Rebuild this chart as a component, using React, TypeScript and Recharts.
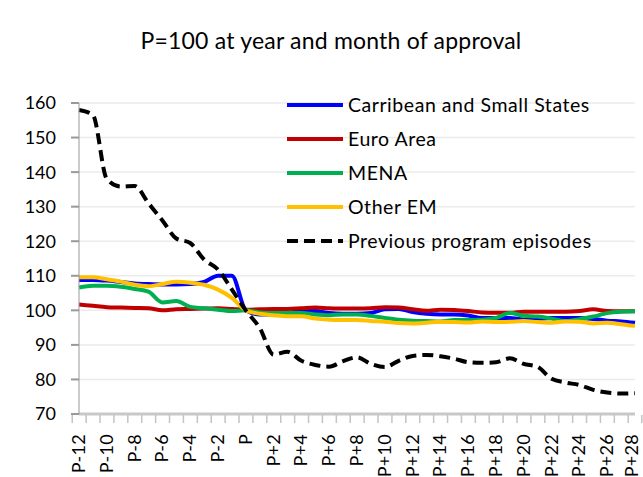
import React from 'react';
import { LineChart, Line, XAxis, YAxis, CartesianGrid, Legend } from 'recharts';

const categories = [
  'P-12', 'P-11', 'P-10', 'P-9', 'P-8', 'P-7', 'P-6', 'P-5', 'P-4', 'P-3', 'P-2', 'P-1', 'P',
  'P+1', 'P+2', 'P+3', 'P+4', 'P+5', 'P+6', 'P+7', 'P+8', 'P+9', 'P+10', 'P+11', 'P+12', 'P+13', 'P+14',
  'P+15', 'P+16', 'P+17', 'P+18', 'P+19', 'P+20', 'P+21', 'P+22', 'P+23', 'P+24', 'P+25', 'P+26', 'P+27', 'P+28',
];

const caribbean = [
  108.8, 108.8, 108.6, 108.2, 107.8, 107.6, 107.5, 107.5, 107.6, 108.2, 110, 110, 100,
  98.8, 98.8, 99.2, 99.8, 99.8, 99.2, 99.0, 99.0, 99.2, 100.3, 100.4, 99.5, 99.0, 98.8,
  98.8, 98.5, 97.8, 97.8, 97.8, 97.3, 97.5, 97.8, 97.8, 97.8, 97.5, 97.0, 96.8, 96.4,
];
const euroArea = [
  101.7, 101.3, 100.9, 100.8, 100.7, 100.6, 100.0, 100.3, 100.4, 100.5, 100.6, 100.4, 100.2,
  100.3, 100.4, 100.4, 100.6, 100.8, 100.6, 100.5, 100.5, 100.6, 100.9, 100.8, 100.3, 99.9, 100.2,
  100.1, 99.8, 99.4, 99.3, 99.3, 99.6, 99.6, 99.6, 99.6, 99.8, 100.3, 99.8, 99.7, 99.7,
];
const mena = [
  106.6, 107.1, 107.1, 106.8, 106.2, 105.4, 102.3, 102.7, 101.0, 100.6, 100.2, 99.8, 100,
  99.4, 99.2, 99.2, 99.2, 98.8, 98.6, 98.8, 98.8, 98.4, 97.8, 97.3, 97.0, 96.9, 96.8,
  97.2, 97.2, 97.3, 97.8, 99.2, 98.4, 98.2, 97.6, 96.9, 97.4, 98.2, 99.2, 99.6, 99.7,
];
const otherEM = [
  109.6, 109.6, 109.0, 108.3, 107.4, 107.0, 107.6, 108.3, 108.0, 107.4, 106.0, 103.6, 100,
  99.0, 98.6, 98.3, 98.3, 97.6, 97.3, 97.2, 97.2, 96.9, 96.7, 96.3, 96.2, 96.4, 96.7,
  96.6, 96.5, 96.8, 96.6, 96.7, 96.9, 96.6, 96.4, 96.8, 96.7, 96.2, 96.4, 96.0, 95.5,
];
const previous = [
  158, 156.5, 138, 135.8, 136, 131, 126, 120.8, 119.5, 114.7, 111.8, 106, 100,
  94.9, 87.2, 88, 85.4, 84.2, 83.7, 85.3, 86.4, 84.5, 83.6, 85.4, 86.8, 87.1, 86.7,
  86, 85, 84.8, 85, 86.1, 84.5, 83.6, 80.2, 79.1, 78.4, 77, 76.2, 75.9, 76,
];

const yTicks = [70, 80, 90, 100, 110, 120, 130, 140, 150, 160];

const series = [
  { key: 'caribbean', name: 'Carribean and Small States', color: '#0000FF', dash: undefined as string | undefined },
  { key: 'euro', name: 'Euro Area', color: '#C00000', dash: undefined },
  { key: 'mena', name: 'MENA', color: '#00B050', dash: undefined },
  { key: 'other', name: 'Other EM', color: '#FFC000', dash: undefined },
  { key: 'previous', name: 'Previous program episodes', color: '#000000', dash: '11 6' },
];

const data = categories.map((label, i) => ({
  label,
  caribbean: caribbean[i],
  euro: euroArea[i],
  mena: mena[i],
  other: otherEM[i],
  previous: previous[i],
}));

const W = 643;
const H = 477;
const MARGIN = { top: 103, right: 8, bottom: 0, left: 0 };
const Y_AXIS_W = 79;
const X_AXIS_H = 63;
const PLOT_W = W - MARGIN.left - MARGIN.right - Y_AXIS_W;
const BAND = PLOT_W / categories.length;
const FONT = 'Lato, "Open Sans", sans-serif';

function XTick(props: any) {
  const { x, y, payload, index } = props;
  const half = BAND / 2;
  const isLast = index === categories.length - 1;
  return (
    <g>
      <line x1={x - half} x2={x - half} y1={y + 1} y2={y + 9} stroke="#c4c4c4" strokeWidth={1.5} />
      {isLast && (
        <line x1={x + half} x2={x + half} y1={y + 1} y2={y + 9} stroke="#c4c4c4" strokeWidth={1.5} />
      )}
      {index % 2 === 0 && (
        <text
          transform={`translate(${x + (isLast ? 3 : 6)},${y + 20}) rotate(-90)`}
          textAnchor="end"
          fontFamily={FONT}
          fontSize={18}
          letterSpacing={0.3}
          fill="#000"
        >
          {payload.value}
        </text>
      )}
    </g>
  );
}

function LegendContent() {
  return (
    <div style={{ fontFamily: FONT, fontSize: 19.5, letterSpacing: 0.55, color: '#000' }}>
      {series.map((s) => (
        <div key={s.key} style={{ display: 'flex', alignItems: 'center', height: 34 }}>
          <svg width={58} height={8} style={{ display: 'block' }}>
            <line x1={0} x2={56} y1={4} y2={4} stroke={s.color} strokeWidth={4} strokeDasharray={s.dash} />
          </svg>
          <span style={{ marginLeft: 3, lineHeight: '34px', whiteSpace: 'nowrap' }}>{s.name}</span>
        </div>
      ))}
    </div>
  );
}

export default function App() {
  return (
    <div style={{ position: 'relative', width: W, height: H, background: '#fff' }}>
      <style>{'body{margin:0;background:#fff}'}</style>
      <div
        style={{
          position: 'absolute',
          top: 26,
          left: 0,
          width: 662,
          textAlign: 'center',
          fontFamily: FONT,
          fontSize: 23,
          letterSpacing: 0.2,
          lineHeight: '28px',
          color: '#000',
          zIndex: 2,
        }}
      >
        P=100 at year and month of approval
      </div>
      <LineChart width={W} height={H} data={data} margin={MARGIN}>
        <CartesianGrid vertical={false} stroke="#ebebeb" strokeWidth={1.5} />
        <XAxis
          dataKey="label"
          interval={0}
          height={X_AXIS_H}
          tickLine={false}
          tickSize={0}
          tickMargin={0}
          axisLine={{ stroke: '#c8c8c8', strokeWidth: 3 }}
          tick={<XTick />}
        />
        <YAxis
          domain={[70, 160]}
          ticks={yTicks}
          width={Y_AXIS_W}
          interval={0}
          tickSize={8}
          tickMargin={15}
          tickLine={{ stroke: '#999', strokeWidth: 2 }}
          axisLine={{ stroke: '#999', strokeWidth: 1 }}
          tick={{ fill: '#000', fontSize: 18, fontFamily: FONT }}
        />
        <Legend
          layout="vertical"
          align="center"
          verticalAlign="middle"
          wrapperStyle={{ left: 287, top: 88, width: 350 }}
          content={<LegendContent />}
        />
        {series.map((s) => (
          <Line
            key={s.key}
            type="monotone"
            dataKey={s.key}
            name={s.name}
            stroke={s.color}
            strokeWidth={4}
            strokeDasharray={s.dash}
            dot={false}
            activeDot={false}
            isAnimationActive={false}
          />
        ))}
      </LineChart>
    </div>
  );
}
